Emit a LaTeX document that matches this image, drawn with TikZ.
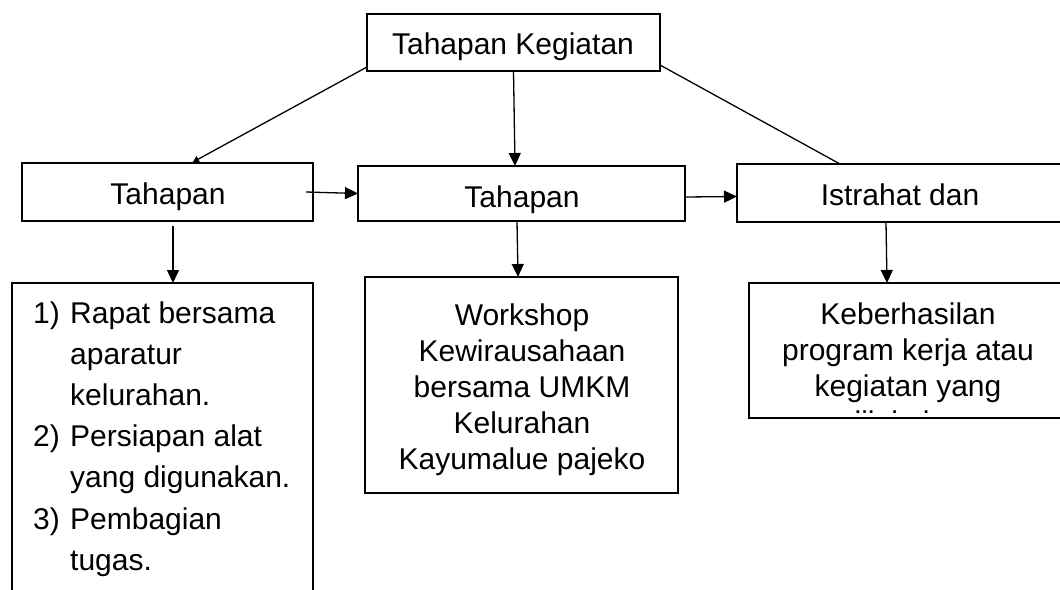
\documentclass[tikz,border=0pt]{standalone}
\usepackage{fontspec}
\setmainfont{Liberation Sans}
\usetikzlibrary{arrows.meta,calc}
\tikzset{
  box/.style={draw, line width=2.5pt, rectangle, inner sep=0pt, outer sep=0pt},
  conn/.style={line width=1.3pt},
  arr/.style={conn, -{Triangle[length=13pt,width=12pt]}},
  smallarr/.style={conn, -{Triangle[length=6pt,width=7pt]}},
  lbl/.style={inner sep=0pt, font=\fontsize{30}{36}\selectfont},
}
\begin{document}
\begin{tikzpicture}[x=1pt,y=-1pt]
\useasboundingbox (0,0) rectangle (1060,589);
\clip (0,0) rectangle (1060,589);
\fill[white] (0,0) rectangle (1060,589);
% boxes
\node[box, minimum width=293pt, minimum height=57pt] (top) at (513.5,42.5) {};
\node[box, minimum width=291pt, minimum height=58pt] (b1) at (167.5,192) {};
\node[box, minimum width=327pt, minimum height=55pt] (b2) at (521.5,193.5) {};
\node[box, minimum width=327pt, minimum height=58pt] (b3) at (900.5,193) {};
\node[box, minimum width=301pt, minimum height=337pt] (c1) at (162.5,451.5) {};
\node[box, minimum width=313pt, minimum height=216pt] (c2) at (521.5,385) {};
\node[box, minimum width=318pt, minimum height=135pt] (c3) at (908,350.5) {};
% labels
\node[lbl, anchor=base] (t0) at (513,54) {Tahapan Kegiatan};
\node[lbl, anchor=base] (t1) at (168,204) {Tahapan};
\node[lbl, anchor=base] (t2) at (522,207) {Tahapan};
\node[lbl, anchor=base] (t3) at (900,205) {Istrahat dan};
\node[lbl, anchor=base west] (t4) at (33,323) {\parbox[t]{290pt}{\fontsize{30}{41.2}\selectfont
  \makebox[37pt][l]{1)}Rapat bersama\\
  \hspace*{37pt}aparatur\\
  \hspace*{37pt}kelurahan.\\
  \makebox[37pt][l]{2)}Persiapan alat\\
  \hspace*{37pt}yang digunakan.\\
  \makebox[37pt][l]{3)}Pembagian\\
  \hspace*{37pt}tugas.}};
\node[lbl, anchor=base] (t5) at (522,325) {\parbox[t]{310pt}{\centering\fontsize{30}{36}\selectfont
  Workshop\\Kewirausahaan\\bersama UMKM\\Kelurahan\\Kayumalue pajeko}};
\begin{scope}
  \clip (740,283) rectangle (1070,412);
  \node[lbl, anchor=base] (t6) at (908,324) {\parbox[t]{318pt}{\centering\fontsize{30}{36}\selectfont
    Keberhasilan\\program kerja atau\\kegiatan yang\\dilakukan}};
\end{scope}
% connectors
\draw[smallarr] ([yshift=4pt]top.south west) -- ($(b1.north west)+(171,-1)$);
\draw[arr] (top.south) -- ($(b2.north west)+(157,0)$);
\draw[conn] ([yshift=6pt]top.south east) -- ($(b3.north west)+(103,0)$);
\draw[arr] ($(b1.east)+(-7,0)$) -- (b2.west);
\draw[arr] ([yshift=-3.5pt]b2.east) -- ([yshift=-3.5pt]b3.west);
\draw[arr] ($(b1.south west)+(151,5)$) -- ($(c1.north west)+(161,0)$);
\draw[arr] ($(b2.south west)+(159,0)$) -- ($(c2.north west)+(153,0)$);
\draw[arr] ($(b3.south west)+(149,0)$) -- ($(c3.north west)+(138,0)$);
\end{tikzpicture}
\end{document}
